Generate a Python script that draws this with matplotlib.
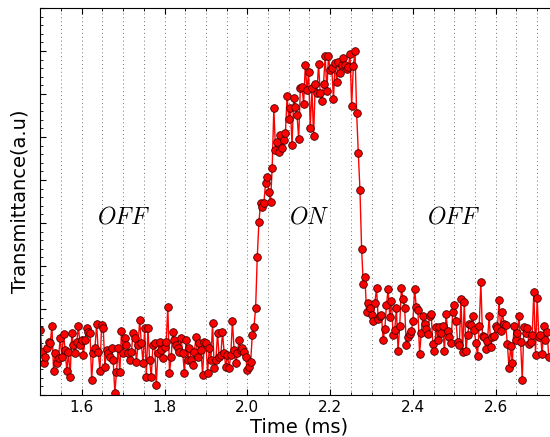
import numpy as np
import matplotlib
matplotlib.use("Agg")
import matplotlib.pyplot as plt
from matplotlib.ticker import MultipleLocator

plt.rcParams["mathtext.fontset"] = "cm"

# sampling of the trace (ms)
t_start = 1.5
dt = 0.004

# transmittance (a.u.), three segments
off_before = [
    0.151, 0.100, 0.074, 0.088, 0.109, 0.123, 0.121, 0.160, 0.056, 0.098,
    0.074, 0.086, 0.133, 0.088, 0.142, 0.105, 0.056, 0.100, 0.042, 0.144,
    0.116, 0.098, 0.123, 0.160, 0.116, 0.128, 0.093, 0.128, 0.156, 0.147,
    0.144, 0.035, 0.098, 0.109, 0.165, 0.100, 0.056, 0.163, 0.156, 0.065,
    0.105, 0.098, 0.088, 0.109, 0.081, 0.005, 0.053, 0.109, 0.053, 0.149,
    0.098, 0.133, 0.116, 0.098, 0.081, 0.100, 0.144, 0.133, 0.077, 0.116,
    0.174, 0.121, 0.074, 0.156, 0.042,
    0.156, 0.081, 0.042, 0.116, 0.121, 0.023, 0.098, 0.123, 0.105, 0.086,
    0.112, 0.123, 0.205, 0.051, 0.088, 0.147, 0.128, 0.116, 0.109, 0.100,
    0.133, 0.098, 0.051, 0.128, 0.081, 0.109, 0.081, 0.070, 0.100, 0.135,
    0.088, 0.121, 0.105, 0.047, 0.123, 0.121, 0.051, 0.109, 0.081, 0.167,
    0.063, 0.081, 0.144, 0.088, 0.093, 0.147, 0.098, 0.065, 0.093, 0.063,
    0.093, 0.172, 0.105, 0.074, 0.098, 0.128, 0.105, 0.109, 0.100, 0.088,
    0.058, 0.065, 0.077,
]

on_pulse = [
    0.140, 0.158, 0.202,
    0.321, 0.402, 0.447, 0.437, 0.447, 0.493, 0.507, 0.472, 0.449, 0.528,
    0.667, 0.570, 0.588, 0.565, 0.605, 0.574, 0.593, 0.609, 0.695, 0.642,
    0.667, 0.581, 0.691, 0.670, 0.651, 0.595, 0.714, 0.716, 0.677, 0.767,
    0.709, 0.751, 0.621, 0.714, 0.602, 0.723, 0.702, 0.770, 0.702, 0.684,
    0.723, 0.788, 0.707, 0.788, 0.756, 0.760, 0.688, 0.772, 0.728, 0.774,
    0.749, 0.767, 0.784, 0.767, 0.758, 0.763, 0.793, 0.672, 0.765, 0.800,
    0.656, 0.563, 0.477, 0.340, 0.258,
]

off_after = [
    0.274, 0.193, 0.214, 0.202, 0.186, 0.172, 0.214, 0.249, 0.177, 0.184,
    0.186, 0.128, 0.153, 0.209, 0.247, 0.181, 0.219, 0.140, 0.151, 0.202,
    0.102, 0.160, 0.249, 0.223, 0.202, 0.116, 0.135, 0.142, 0.149, 0.172,
    0.247, 0.205, 0.198, 0.095, 0.144, 0.184, 0.165, 0.153, 0.142, 0.184,
    0.188, 0.119, 0.102, 0.158, 0.128, 0.158, 0.144, 0.160, 0.102, 0.188,
    0.149, 0.135, 0.121, 0.193, 0.209, 0.172, 0.123, 0.116, 0.223, 0.100,
    0.216, 0.102, 0.140, 0.165, 0.163, 0.184, 0.151, 0.121, 0.091, 0.160,
    0.263, 0.137, 0.135, 0.107, 0.126, 0.184, 0.112, 0.135, 0.137, 0.160,
    0.156, 0.221, 0.149, 0.193, 0.165, 0.163, 0.119, 0.063, 0.114, 0.074,
    0.160, 0.128, 0.144, 0.184, 0.123, 0.035, 0.158, 0.144, 0.156, 0.119,
    0.123, 0.140, 0.240, 0.093, 0.226, 0.135, 0.140, 0.095, 0.160, 0.128,
    0.147, 0.088,
]

labels = ["OFF", "ON", "OFF"]
label_x = [1.70, 2.149, 2.499]
label_y = 0.414

y = np.array(off_before + on_pulse + off_after)
t = t_start + dt * np.arange(len(y))

fig = plt.figure(figsize=(5.5, 4.37), dpi=100)
ax = fig.add_axes([0.0733, 0.0961, 0.941, 0.8856])

ax.plot(t, y, "-o", color="red", lw=1.0, markersize=5.5,
        markerfacecolor="red", markeredgecolor="#400000", markeredgewidth=0.6)

for txt, xx in zip(labels, label_x):
    ax.text(xx, label_y, "$%s$" % txt, fontsize=17, ha="center", va="center")

ax.set_xlim(1.5, 2.75)
ax.set_ylim(0, 0.9)
ax.xaxis.set_major_locator(MultipleLocator(0.2))
ax.xaxis.set_minor_locator(MultipleLocator(0.05))
ax.yaxis.set_major_locator(MultipleLocator(0.1))
ax.yaxis.set_minor_locator(MultipleLocator(0.02))
ax.xaxis.grid(True, which="both", linestyle=(0, (1, 3)), color="0.45", lw=0.7)

ax.tick_params(which="both", direction="in", top=True, right=True,
               labelleft=False, labelsize=11)
ax.tick_params(which="major", length=4)
ax.tick_params(which="minor", length=2)

ax.set_xlabel("Time (ms)", fontsize=14, labelpad=2)
ax.set_ylabel("Transmittance(a.u)", fontsize=14, labelpad=8)

fig.savefig("out.png", dpi=100, facecolor="white")
